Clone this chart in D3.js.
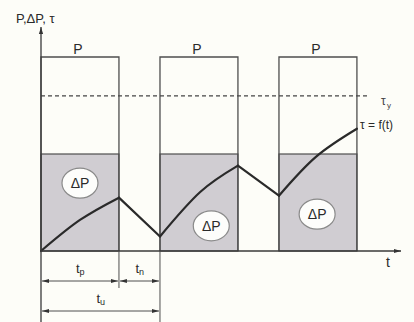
<!DOCTYPE html>
<html>
<head>
<meta charset="utf-8">
<script src="https://cdn.jsdelivr.net/npm/d3@7"></script>
<style>
  body { margin: 0; background: #fdfdf8; }
  svg { display: block; font-family: "Liberation Sans", Arial, sans-serif; }
</style>
</head>
<body>
<svg id="chart" width="414" height="322"></svg>
<script>
// pulse intervals [start, end] on the time axis
const pulses = [[0, 1.9], [2.9, 4.8], [5.8, 7.7]];
const pulseLevel = 10;     // P
const lossLevel = 5;       // ΔP
const tauLimit = 8;        // τy
// temperature curve τ = f(t): rising parts (heating) and falling parts (cooling)
const tauRise = [
    [[0, 0], [0.95, 1.6], [1.9, 2.75]],
    [[2.9, 0.75], [3.88, 3.04], [4.8, 4.4]],
    [[5.8, 2.85], [6.7, 4.85], [7.7, 6.3]]
];
const tauFall = [
    [[1.9, 2.75], [2.9, 0.75]],
    [[4.8, 4.4], [5.8, 2.85]]
];
const lossBadges = [[0.95, 3.5], [4.15, 1.3], [6.73, 1.9]];

let svg = d3.select("#chart");
let x = d3.scaleLinear().domain([0, 8.75]).range([41, 400]);
let y = d3.scaleLinear().domain([0, 10]).range([251, 57]);
let ink = "#4e4e4e";

// gray ΔP areas
svg.append("g").selectAll("rect")
    .data(pulses)
    .enter().append("rect")
    .attr("x", d => x(d[0]))
    .attr("y", y(lossLevel))
    .attr("width", d => x(d[1]) - x(d[0]))
    .attr("height", y(0) - y(lossLevel))
    .attr("fill", "#d0cdd2")
    .attr("stroke", ink)
    .attr("stroke-width", 1.2);

// P pulse outlines
svg.append("g").selectAll("path")
    .data(pulses)
    .enter().append("path")
    .attr("d", d => `M${x(d[0])},${y(0)}V${y(pulseLevel)}H${x(d[1])}V${y(0)}`)
    .attr("fill", "none")
    .attr("stroke", ink)
    .attr("stroke-width", 1.3);

svg.append("g").selectAll("text")
    .data(pulses)
    .enter().append("text")
    .attr("x", d => (x(d[0]) + x(d[1])) / 2 - 2)
    .attr("y", y(pulseLevel) - 3)
    .attr("text-anchor", "middle")
    .attr("font-size", 14)
    .attr("fill", "#2a2a2a")
    .text("P");

// τy dashed limit
svg.append("line")
    .attr("x1", x(0)).attr("x2", 369)
    .attr("y1", y(tauLimit)).attr("y2", y(tauLimit))
    .attr("stroke", "#444")
    .attr("stroke-width", 1.2)
    .attr("stroke-dasharray", "4,3");

svg.append("text")
    .attr("x", 381).attr("y", y(tauLimit) + 9)
    .attr("font-size", 12).attr("fill", "#444")
    .text("τ");
svg.append("text")
    .attr("x", 387).attr("y", y(tauLimit) + 12)
    .attr("font-size", 8).attr("fill", "#444")
    .text("y");

// ΔP badges
let badge = svg.append("g").selectAll("g")
    .data(lossBadges)
    .enter().append("g")
    .attr("transform", d => `translate(${x(d[0])},${y(d[1])})`);
badge.append("ellipse")
    .attr("rx", 18).attr("ry", 15)
    .attr("fill", "#fdfdfb")
    .attr("stroke", "#8a8a8a")
    .attr("stroke-width", 1.2);
badge.append("text")
    .attr("y", 5)
    .attr("text-anchor", "middle")
    .attr("font-size", 14)
    .attr("fill", "#2a2a2a")
    .text("ΔP");

// τ = f(t) curve
let riseLine = d3.line().x(d => x(d[0])).y(d => y(d[1])).curve(d3.curveNatural);
let fallLine = d3.line().x(d => x(d[0])).y(d => y(d[1]));
svg.append("g").selectAll("path")
    .data(tauRise)
    .enter().append("path")
    .attr("d", riseLine)
    .attr("fill", "none")
    .attr("stroke", "#2a2a2a")
    .attr("stroke-width", 2.2)
    .attr("stroke-linecap", "round");
svg.append("g").selectAll("path")
    .data(tauFall)
    .enter().append("path")
    .attr("d", fallLine)
    .attr("fill", "none")
    .attr("stroke", "#2a2a2a")
    .attr("stroke-width", 2.2)
    .attr("stroke-linecap", "round");

svg.append("text")
    .attr("x", 360).attr("y", 129)
    .attr("font-size", 12).attr("fill", "#2a2a2a")
    .text("τ = f(t)");

// arrow markers
let defs = svg.append("defs");
defs.append("marker")
    .attr("id", "arr")
    .attr("viewBox", "0 0 10 10")
    .attr("refX", 10).attr("refY", 5)
    .attr("markerWidth", 7).attr("markerHeight", 7)
    .attr("markerUnits", "userSpaceOnUse")
    .attr("orient", "auto-start-reverse")
    .append("path")
    .attr("d", "M0,2L10,5L0,8Z")
    .attr("fill", "#333");

// axes
svg.append("line")
    .attr("x1", x(0)).attr("x2", x(0))
    .attr("y1", 322).attr("y2", 27)
    .attr("stroke", "#3a3a3a").attr("stroke-width", 1.3)
    .attr("marker-end", "url(#arr)");
svg.append("line")
    .attr("x1", x(0)).attr("x2", 401)
    .attr("y1", y(0)).attr("y2", y(0))
    .attr("stroke", "#3a3a3a").attr("stroke-width", 1.3)
    .attr("marker-end", "url(#arr)");

svg.append("text")
    .attr("x", 16).attr("y", 23)
    .attr("font-size", 13).attr("fill", "#2a2a2a")
    .text("P,ΔP, τ");
svg.append("text")
    .attr("x", 386).attr("y", 267)
    .attr("font-size", 14).attr("fill", "#2a2a2a")
    .text("t");

// dimension lines below the axis
let tp = pulses[0][1] - pulses[0][0];
let tn = pulses[1][0] - pulses[0][1];
svg.append("line")
    .attr("x1", x(tp)).attr("x2", x(tp))
    .attr("y1", y(0)).attr("y2", 288)
    .attr("stroke", ink);
svg.append("line")
    .attr("x1", x(tp + tn)).attr("x2", x(tp + tn))
    .attr("y1", y(0)).attr("y2", 322)
    .attr("stroke", ink);

let dims = [
    {from: 0, to: tp, row: 281, label: "t", sub: "p"},
    {from: tp, to: tp + tn, row: 281, label: "t", sub: "n"},
    {from: 0, to: tp + tn, row: 311, label: "t", sub: "u"}
];
svg.append("g").selectAll("line")
    .data(dims)
    .enter().append("line")
    .attr("x1", d => x(d.from) + 1).attr("x2", d => x(d.to) - 1)
    .attr("y1", d => d.row).attr("y2", d => d.row)
    .attr("stroke", ink)
    .attr("marker-start", "url(#arr)")
    .attr("marker-end", "url(#arr)");
let dimText = svg.append("g").selectAll("text")
    .data(dims)
    .enter().append("text")
    .attr("x", d => (x(d.from) + x(d.to)) / 2 - 4)
    .attr("y", d => d.row - 8)
    .attr("font-size", 13).attr("fill", "#2a2a2a");
dimText.append("tspan").text(d => d.label);
dimText.append("tspan").attr("font-size", 9).attr("dy", 2).text(d => d.sub);
</script>
</body>
</html>
